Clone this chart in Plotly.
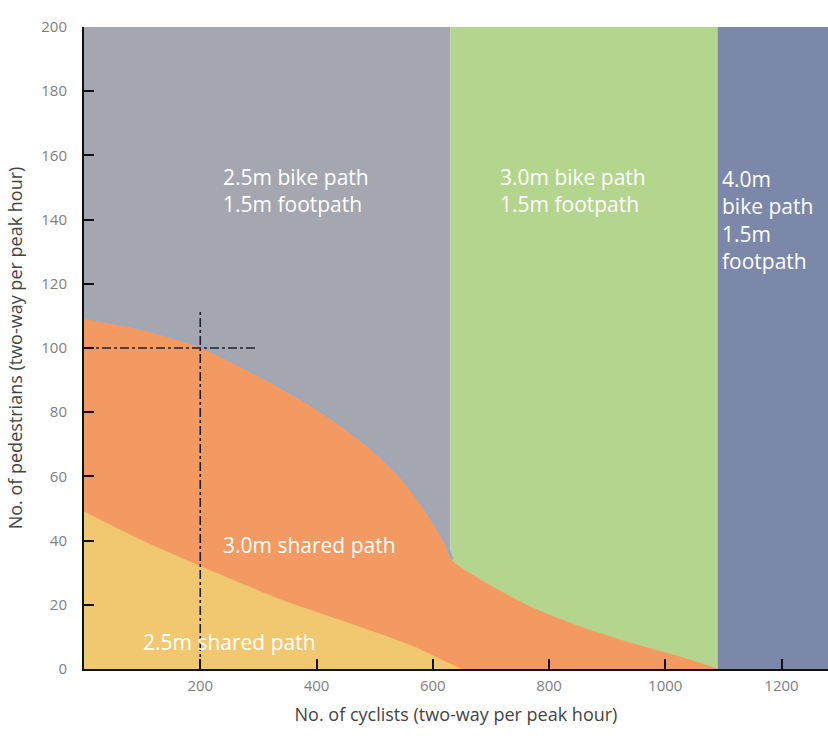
import plotly.graph_objects as go

# ---- data ----
zone_edges = [0, 630, 1090, 1280]          # cyclists: bike-path zones
zone_top = 200
zone_labels = ["2.5m bike path<br>1.5m footpath",
               "3.0m bike path<br>1.5m footpath",
               "4.0m<br>bike path<br>1.5m<br>footpath"]
zone_colors = ["#a4a7af", "#b3d58d", "#7b88a9"]

# 3.0m shared path upper boundary (cyclists, pedestrians)
shared30_x = [0, 100, 200, 311, 397, 482, 541, 585, 620, 632, 683, 769, 855, 941, 1027, 1090]
shared30_y = [109, 105.5, 100, 90, 81, 70, 60, 49.5, 39, 34, 27.7, 19.3, 13.1, 8.1, 3.7, 0]

# 2.5m shared path upper boundary
shared25_x = [0, 100, 200, 340, 455, 568, 615, 650]
shared25_y = [49, 40, 32, 21.5, 14.3, 6.9, 2.8, 0]

# example reading
ex_cyclists = 200
ex_pedestrians = 100
ex_v_top = 112
ex_h_end = 295

x_ticks = [200, 400, 600, 800, 1000, 1200]
y_ticks = list(range(0, 201, 20))

font_family = "Open Sans, sans-serif"

fig = go.Figure()

# zones
for i in range(3):
    x0, x1 = zone_edges[i], zone_edges[i + 1]
    fig.add_trace(go.Scatter(
        x=[x0, x1, x1, x0, x0], y=[0, 0, zone_top, zone_top, 0],
        fill="toself", fillcolor=zone_colors[i], mode="none",
        hoverinfo="skip", showlegend=False))

# bluish edge band between grey zone and orange area
fig.add_trace(go.Scatter(
    x=shared30_x[:10], y=shared30_y[:10], mode="lines",
    line=dict(color="#95a9c6", width=5, shape="spline", smoothing=0.8),
    hoverinfo="skip", showlegend=False))

# 3.0m shared path
fig.add_trace(go.Scatter(
    x=shared30_x, y=shared30_y, fill="tozeroy", fillcolor="#f29a62",
    mode="lines", line=dict(color="#f29a62", width=0.5, shape="spline", smoothing=0.8),
    hoverinfo="skip", showlegend=False))

# 2.5m shared path
fig.add_trace(go.Scatter(
    x=shared25_x, y=shared25_y, fill="tozeroy", fillcolor="#f1c870",
    mode="lines", line=dict(color="#f1c870", width=0.5, shape="spline", smoothing=0.8),
    hoverinfo="skip", showlegend=False))

# crosshair
fig.add_trace(go.Scatter(
    x=[ex_cyclists, ex_cyclists], y=[0, ex_v_top], mode="lines",
    line=dict(color="#1c2233", width=1.6, dash="dashdot"),
    hoverinfo="skip", showlegend=False))
fig.add_trace(go.Scatter(
    x=[0, ex_h_end], y=[ex_pedestrians, ex_pedestrians], mode="lines",
    line=dict(color="#1c2233", width=1.6, dash="dashdot"),
    hoverinfo="skip", showlegend=False))

# labels
lab_font = dict(family=font_family, size=21, color="white")
fig.add_annotation(x=236, y=149, text=zone_labels[0], showarrow=False,
                   xanchor="left", yanchor="middle", align="left", font=lab_font)
fig.add_annotation(x=712, y=149, text=zone_labels[1], showarrow=False,
                   xanchor="left", yanchor="middle", align="left", font=lab_font)
fig.add_annotation(x=1094, y=140, text=zone_labels[2], showarrow=False,
                   xanchor="left", yanchor="middle", align="left", font=lab_font)
fig.add_annotation(x=236, y=38.6, text="3.0m shared path", showarrow=False,
                   xanchor="left", yanchor="middle", align="left", font=lab_font)
fig.add_annotation(x=98, y=8.4, text="2.5m shared path", showarrow=False,
                   xanchor="left", yanchor="middle", align="left", font=lab_font)

axis_common = dict(showline=True, linecolor="#111111", linewidth=2,
                   ticks="inside", ticklen=10, tickwidth=2, tickcolor="#111111",
                   showgrid=False, zeroline=False, automargin=True,
                   tickfont=dict(family=font_family, size=15, color="#808080"))

fig.update_layout(
    width=828, height=736,
    margin=dict(l=84, r=0, t=27, b=67),
    paper_bgcolor="white", plot_bgcolor="white",
    xaxis=dict(range=[0, 1280], tickvals=x_ticks, ticklabelstandoff=2,
               title=dict(text="No. of cyclists (two-way per peak hour)",
                          font=dict(family=font_family, size=18, color="#444444"),
                          standoff=14),
               **axis_common),
    yaxis=dict(range=[0, 200], tickvals=y_ticks, ticklabelstandoff=12,
               title=dict(text="No. of pedestrians (two-way per peak hour)",
                          font=dict(family=font_family, size=18, color="#444444"),
                          standoff=14),
               **axis_common),
)

fig.write_html("out.html", config={"displayModeBar": False})

# remove the default page margin so the figure fills the window exactly
with open("out.html", "r", encoding="utf-8") as f:
    html = f.read()
html = html.replace("<head>", "<head><style>html,body{margin:0;padding:0;}</style>", 1)
with open("out.html", "w", encoding="utf-8") as f:
    f.write(html)
